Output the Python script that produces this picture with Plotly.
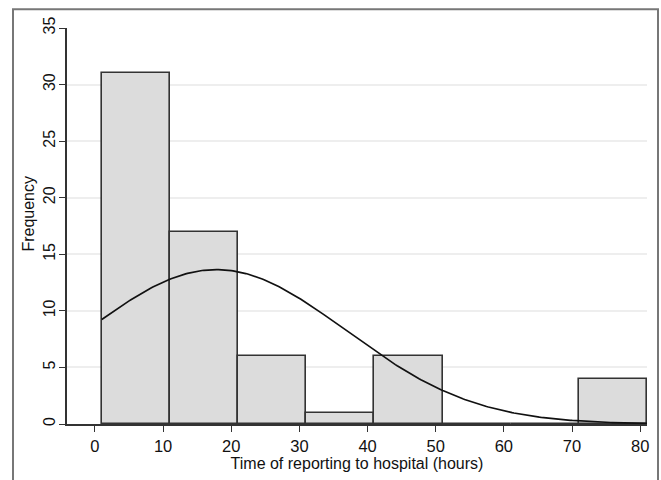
import numpy as np
import plotly.graph_objects as go

bin_left = [1, 11, 21, 31, 41, 51, 61, 71]
bin_width = 10
frequency = [31, 17, 6, 1, 6, 0, 0, 4]
# fitted normal overlay parameters
fit_mean = 17.8
fit_sd = 19.0
x_ticks = [0, 10, 20, 30, 40, 50, 60, 70, 80]
y_ticks = [0, 5, 10, 15, 20, 25, 30, 35]

n_total = sum(frequency)
xs = np.linspace(bin_left[0], bin_left[-1] + bin_width, 300)
ys = n_total * bin_width / (fit_sd * np.sqrt(2 * np.pi)) * np.exp(-0.5 * ((xs - fit_mean) / fit_sd) ** 2)

centers = [b + bin_width / 2 for b in bin_left]

fig = go.Figure()
fig.add_trace(go.Bar(
    x=centers, y=frequency, width=[bin_width] * len(frequency),
    marker=dict(color="#dcdcdc", line=dict(color="#333333", width=1.6)),
    hoverinfo="skip", showlegend=False,
))
fig.add_trace(go.Scatter(
    x=xs, y=ys, mode="lines", line=dict(color="#111111", width=1.7),
    hoverinfo="skip", showlegend=False,
))

fam = "Liberation Sans, Arial, Helvetica, sans-serif"
tickfont = dict(family=fam, size=16.5, color="#111111")
ytickfont = dict(family=fam, size=16, color="#111111")
titlefont = dict(family=fam, size=16, color="#111111")

fig.update_layout(
    width=661, height=480,
    margin=dict(l=67, r=14, t=28, b=53),
    paper_bgcolor="white", plot_bgcolor="white",
    font=tickfont, bargap=0,
    xaxis=dict(
        range=[-4.1, 81.0], tickvals=x_ticks, ticks="outside", ticklen=6,
        tickcolor="#333333", tickwidth=1.3, showline=True, linecolor="#333333",
        linewidth=1.6, showgrid=False, zeroline=False,
        title=dict(text="Time of reporting to hospital (hours)", standoff=2, font=titlefont),
        tickfont=tickfont,
    ),
    yaxis=dict(
        range=[0, 35], tickvals=y_ticks, ticks="outside", ticklen=6,
        tickcolor="#333333", tickwidth=1.3, showline=True, linecolor="#333333",
        linewidth=1.6, showgrid=True, gridcolor="#eeeeee", gridwidth=1.5,
        zeroline=False, tickangle=-90, ticklabelstandoff=-2,
        tickfont=ytickfont,
    ),
    annotations=[dict(
        text="Frequency", xref="paper", yref="paper", x=0, y=(427 - 215) / 399,
        xanchor="center", yanchor="middle", xshift=-38, textangle=-90,
        showarrow=False, font=titlefont,
    )],
    shapes=[dict(
        type="rect", xref="paper", yref="paper",
        x0=(13 - 67) / 580, x1=(658 - 67) / 580,
        y0=-0.5, y1=(427 - 9) / 399,
        line=dict(color="#777777", width=2), fillcolor="rgba(0,0,0,0)",
        layer="below",
    )],
)

fig.write_html(
    "out.html",
    config={"displayModeBar": False},
    post_script="document.body.style.margin='0';document.body.style.overflow='hidden';",
)
